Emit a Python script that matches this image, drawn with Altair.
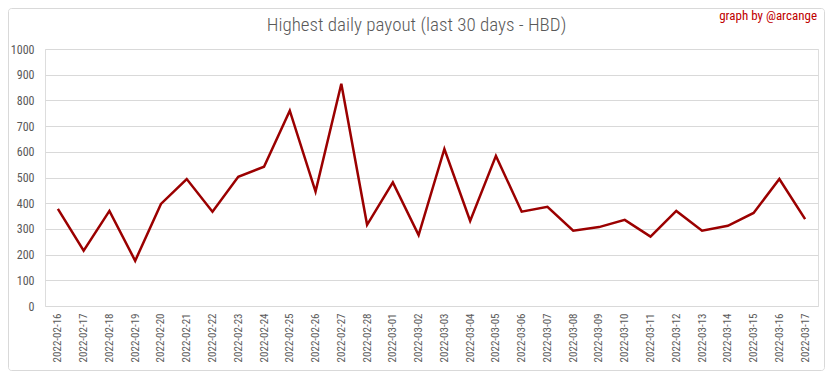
import altair as alt
import pandas as pd

dates = ["2022-02-16", "2022-02-17", "2022-02-18", "2022-02-19", "2022-02-20",
         "2022-02-21", "2022-02-22", "2022-02-23", "2022-02-24", "2022-02-25",
         "2022-02-26", "2022-02-27", "2022-02-28", "2022-03-01", "2022-03-02",
         "2022-03-03", "2022-03-04", "2022-03-05", "2022-03-06", "2022-03-07",
         "2022-03-08", "2022-03-09", "2022-03-10", "2022-03-11", "2022-03-12",
         "2022-03-13", "2022-03-14", "2022-03-15", "2022-03-16", "2022-03-17"]
payouts = [378, 215, 370, 176, 397, 494, 367, 503, 542, 760,
           445, 865, 316, 481, 276, 611, 331, 584, 367, 386,
           293, 307, 335, 270, 370, 293, 312, 362, 494, 338]
y_ticks = [0, 100, 200, 300, 400, 500, 600, 700, 800, 900, 1000]
title_text = ["Highest daily payout (last 30 days - HBD)"]
credit_text = ["graph by @arcange"]

df = pd.DataFrame({"date": dates, "value": payouts})
FONT = "Roboto Condensed, Liberation Sans Narrow, Roboto, sans-serif"
GRAY = "#595959"

PW, PH = 773, 257
PL, PT = 37, 41
TOTAL_W, TOTAL_H = 817, 363

line = alt.Chart(df).mark_line(color="#9b0000", strokeWidth=2.5).encode(
    x=alt.X("date:N", sort=None, title=None,
            axis=alt.Axis(labelAngle=-90, labelFontSize=11, labelColor=GRAY,
                          labelFont=FONT, ticks=False, domain=False,
                          labelPadding=7, grid=False)),
    y=alt.Y("value:Q", title=None,
            scale=alt.Scale(domain=[0, 1000], nice=False),
            axis=alt.Axis(values=y_ticks, format="d", labelFontSize=12, labelColor=GRAY,
                          labelFont=FONT, ticks=False, domain=False,
                          labelPadding=11, gridColor="#d9d9d9", gridWidth=1)),
)

title = alt.Chart(pd.DataFrame({"t": title_text})).mark_text(
    align="center", baseline="middle", color=GRAY, fontSize=19, font=FONT,
    fontWeight=300
).encode(text="t:N", x=alt.value(PW / 2 - 15), y=alt.value(-24))

credit = alt.Chart(pd.DataFrame({"t": credit_text})).mark_text(
    align="right", baseline="middle", color="#c00000", fontSize=13, font=FONT
).encode(text="t:N", x=alt.value(772), y=alt.value(-33))

border = alt.Chart(pd.DataFrame({"t": credit_text})).mark_rect(
    fill=None, stroke="#d9d9d9", strokeWidth=1, cornerRadius=3
).encode(x=alt.value(-PL + 0.5), x2=alt.value(TOTAL_W - PL - 0.5),
         y=alt.value(-PT + 0.5), y2=alt.value(TOTAL_H - PT - 0.5))

chart = alt.layer(border, line, title, credit).properties(
    width=PW, height=PH,
    autosize=alt.AutoSizeParams(type="none"),
    padding={"left": PL, "top": PT, "right": TOTAL_W - PL - PW, "bottom": TOTAL_H - PT - PH},
).configure_view(stroke=None).configure(background="white")

chart.save("out.html", embed_options={"renderer": "svg", "actions": False})
